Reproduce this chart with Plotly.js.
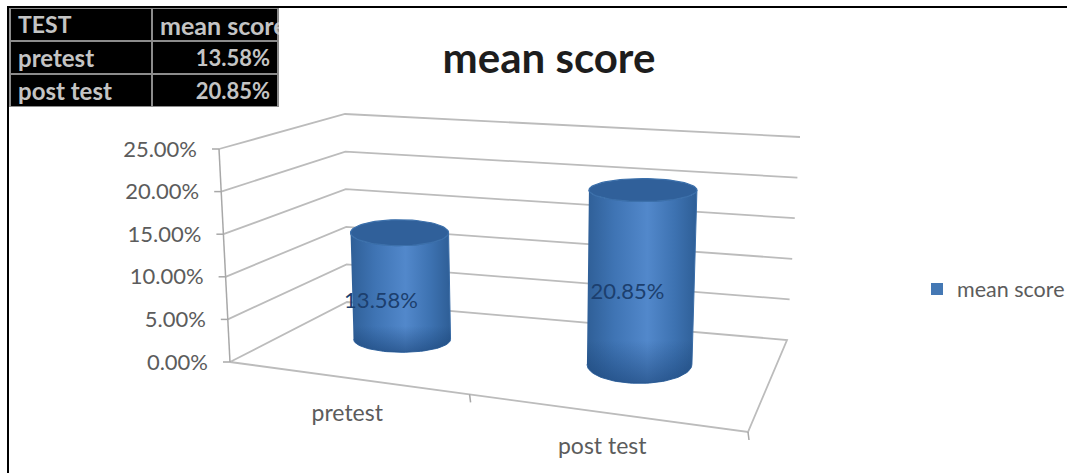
<!DOCTYPE html>
<html>
<head>
<meta charset="utf-8">
<script src="https://cdn.plot.ly/plotly-3.0.1.min.js"></script>
<style>html,body{margin:0;padding:0;background:#fff;overflow:hidden}#chart{width:1067px;height:473px}</style>
</head>
<body>
<div id="chart"></div>
<script>
// Chart values
const categories = ['pretest', 'post test'];
const meanScore = [13.58, 20.85];
const valueLabels = ['13.58%', '20.85%'];
const seriesName = 'mean score';
const tickValues = [0, 5, 10, 15, 20, 25];
const tickLabels = ['0.00%', '5.00%', '10.00%', '15.00%', '20.00%', '25.00%'];
const tableHeader = ['TEST', 'mean\u00a0score'];

// Page size and the scale of the value axis
const W = 1067, H = 473;
const zeroPx = 362, pxPerPct = 8.52;
const yUnit = px => (zeroPx - px) / pxPerPct;

// Corners of the oblique box, at value 0 and value 25
const lerp = (a, b, t) => a + (b - a) * t;
const cornerLow = {front: [230, 362], back: [347, 302], right: [787, 340], near: [748, 432]};
const cornerHigh = {front: [219, 149], back: [345, 114], right: [800, 137]};
const corner = (name, v) => {
  const t = v / 25;
  return [lerp(cornerLow[name][0], cornerHigh[name][0], t), lerp(cornerLow[name][1], cornerHigh[name][1], t)];
};
const floorPoint = (u, w) => {
  const f = u / 2;
  const x0 = lerp(cornerLow.front[0], cornerLow.near[0], f), y0 = lerp(cornerLow.front[1], cornerLow.near[1], f);
  const x1 = lerp(cornerLow.back[0], cornerLow.right[0], f), y1 = lerp(cornerLow.back[1], cornerLow.right[1], f);
  return [lerp(x0, x1, w), lerp(y0, y1, w)];
};

// Per-cylinder projection settings
const cylinders = [
  {u: 0.445, w: 0.57, pct: 7.85, rxBase: 48.5, ryBase: 13, rxTop: 49, ryTop: 13, lean: -2.5,
   labelDx: -21, labelDy: -37, catDx: 2, catDy: 38},
  {u: 1.445, w: 0.58, pct: 8.36, rxBase: 52.5, ryBase: 19, rxTop: 54, ryTop: 11.5, lean: 3.5,
   labelDx: -12, labelDy: -71, catDx: -2, catDy: 36}
];

const traces = [];
const segs = list => {
  const x = [], y = [];
  list.forEach(pts => {
    pts.forEach(p => { x.push(p[0]); y.push(yUnit(p[1])); });
    x.push(null); y.push(null);
  });
  return {x, y};
};
const lineTrace = (list, color, width) => Object.assign(segs(list), {
  type: 'scatter', mode: 'lines', line: {color, width}, showlegend: false, hoverinfo: 'skip'
});

// Walls and floor
const grid = tickValues.filter(v => v > 0).map(v => [corner('front', v), corner('back', v), corner('right', v)]);
grid.push([corner('front', 0), corner('back', 0), corner('right', 0), cornerLow.near, corner('front', 0)]);
traces.push(lineTrace(grid, '#bcbcbc', 1.8));

// Value axis and its ticks, category ticks
const axisMarks = [[corner('front', 0), corner('front', 25)]];
tickValues.forEach(v => {
  const p = corner('front', v);
  axisMarks.push([[p[0] - 7, p[1]], p]);
});
[0.925, 2].forEach(u => {
  const p = floorPoint(u, 0);
  axisMarks.push([p, [p[0] + 1, p[1] + 8]]);
});
traces.push(lineTrace(axisMarks, '#a8a8a8', 1.5));

// Value axis labels follow the leaning axis
traces.push({
  type: 'scatter', mode: 'text', showlegend: false, hoverinfo: 'skip',
  x: tickValues.map(v => corner('front', v)[0] - 22),
  y: tickValues.map(v => yUnit(corner('front', v)[1] + 2)),
  text: tickLabels, textposition: 'middle left',
  textfont: {family: 'Lato, sans-serif', size: 22, color: '#5c5c5c'}
});

// Cylinders, drawn from the mean scores
const shade = [[0, '#2f5f97'], [0.25, '#3f74b4'], [0.55, '#5288cb'], [0.8, '#3d72b1'], [1, '#2e5e96']];
const steps = [...Array(49).keys()].map(i => i / 48);
categories.forEach((name, i) => {
  const c = cylinders[i];
  const base = floorPoint(c.u, c.w);
  const top = [base[0] + c.lean, base[1] - meanScore[i] * c.pct];
  const frontArc = (ctr, rx, ry) => steps.map(t => [ctr[0] - rx * Math.cos(Math.PI * t), ctr[1] + ry * Math.sin(Math.PI * t)]);
  const lowerArc = frontArc(base, c.rxBase, c.ryBase);
  const upperArc = frontArc(top, c.rxTop, c.ryTop);
  const body = lowerArc.concat(upperArc.slice().reverse());
  const bodyXY = segs([body]);
  traces.push({
    type: 'scatter', mode: 'lines', fill: 'toself', showlegend: false, hoverinfo: 'skip', name,
    x: bodyXY.x.slice(0, -1), y: bodyXY.y.slice(0, -1),
    line: {color: '#3a6da8', width: 1},
    fillgradient: {type: 'horizontal', colorscale: shade}
  });
  traces.push({
    type: 'scatter', mode: 'lines', fill: 'toself', showlegend: false, hoverinfo: 'skip',
    x: bodyXY.x.slice(0, -1), y: bodyXY.y.slice(0, -1),
    line: {color: 'rgba(0,0,0,0)', width: 0},
    fillgradient: {type: 'vertical', colorscale: [[0, 'rgba(20,60,110,0.55)'], [0.22, 'rgba(20,60,110,0)'], [1, 'rgba(20,60,110,0)']]}
  });
  const ring = segs([[...Array(73).keys()].map(k => {
    const a = 2 * Math.PI * k / 72;
    return [top[0] + c.rxTop * Math.cos(a), top[1] + c.ryTop * Math.sin(a)];
  })]);
  traces.push({
    type: 'scatter', mode: 'lines', fill: 'toself', showlegend: false, hoverinfo: 'skip',
    x: ring.x.slice(0, -1), y: ring.y.slice(0, -1),
    line: {color: '#3c70ab', width: 1.2}, fillcolor: '#30609a'
  });
});

// Value labels on the cylinders
traces.push({
  type: 'scatter', mode: 'text', showlegend: false, hoverinfo: 'skip',
  x: cylinders.map(c => floorPoint(c.u, c.w)[0] + c.labelDx),
  y: cylinders.map(c => yUnit(floorPoint(c.u, c.w)[1] + c.labelDy)),
  text: valueLabels, textposition: 'middle center',
  textfont: {family: 'Lato, sans-serif', size: 22, color: '#1c3f6e'}
});

// Category labels under the floor
traces.push({
  type: 'scatter', mode: 'text', showlegend: false, hoverinfo: 'skip',
  x: cylinders.map(c => floorPoint(c.u, 0)[0] + c.catDx),
  y: cylinders.map(c => yUnit(floorPoint(c.u, 0)[1] + c.catDy)),
  text: categories, textposition: 'middle center',
  textfont: {family: 'Lato, sans-serif', size: 23, color: '#5c5c5c'}
});

// Legend key
traces.push({
  type: 'scatter', mode: 'markers', name: seriesName, x: [null], y: [null],
  marker: {symbol: 'square', size: 12, color: '#4478b4'}, hoverinfo: 'skip'
});

// Data table in the top corner
traces.push({
  type: 'table',
  domain: {x: [10 / W, 278 / W], y: [1 - 107 / H, 1 - 8 / H]},
  columnwidth: [142, 126],
  header: {
    values: tableHeader, height: 33, align: ['left', 'left'],
    fill: {color: '#000'}, line: {color: '#8c8c8c', width: 1.5},
    font: {family: 'Lato, sans-serif', size: [23, 25], color: '#c4c4c4', weight: 'bold'}
  },
  cells: {
    values: [categories, valueLabels], height: 33, align: ['left', 'right'],
    fill: {color: '#000'}, line: {color: '#8c8c8c', width: 1.5},
    font: {family: 'Lato, sans-serif', size: [24, 22], color: '#c4c4c4', weight: 'bold'}
  }
});

const layout = {
  width: W, height: H, autosize: false,
  margin: {l: 0, r: 0, t: 0, b: 0, pad: 0, autoexpand: false},
  paper_bgcolor: '#fff', plot_bgcolor: '#fff',
  font: {family: 'Lato, sans-serif'},
  title: {
    text: '<b>mean score</b>', x: 549 / W, xanchor: 'center', xref: 'paper',
    y: 1 - 58 / H, yanchor: 'middle', yref: 'paper',
    font: {family: 'Lato, sans-serif', size: 42, color: '#1d1d1d'}
  },
  xaxis: {range: [0, W], visible: false, fixedrange: true},
  yaxis: {range: [yUnit(H), yUnit(0)], visible: false, fixedrange: true},
  legend: {
    x: 917 / W, xanchor: 'left', y: 1 - 289 / H, yanchor: 'middle',
    bgcolor: 'rgba(0,0,0,0)', borderwidth: 0, itemwidth: 30,
    font: {family: 'Lato, sans-serif', size: 21.5, color: '#5c5c5c'}
  },
  shapes: [{
    type: 'path', xref: 'paper', yref: 'paper',
    path: `M ${8 / W} 0 L ${8 / W} ${1 - 7 / H} L 1 ${1 - 7 / H}`,
    line: {color: '#000', width: 2}
  }]
};

Plotly.newPlot('chart', traces, layout, {displayModeBar: false, responsive: false});
</script>
</body>
</html>
